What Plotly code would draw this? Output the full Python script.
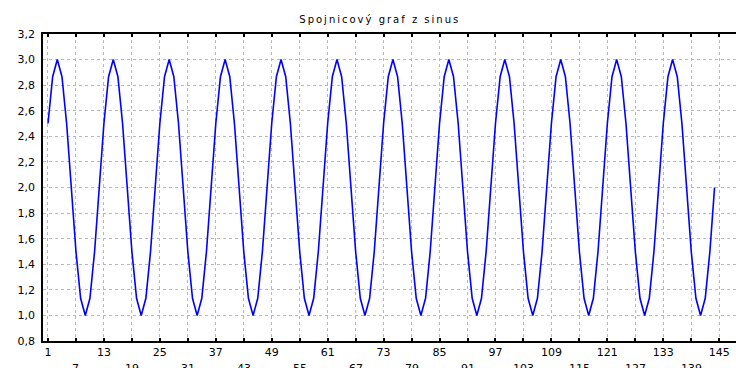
import plotly.graph_objects as go

# Data (x = 1..144)
x_values = list(range(1, 145))
y_values = [
    2.5, 2.866, 3.0, 2.866, 2.5, 2.0, 1.5, 1.134, 1.0, 1.134, 1.5, 2.0,
    2.5, 2.866, 3.0, 2.866, 2.5, 2.0, 1.5, 1.134, 1.0, 1.134, 1.5, 2.0,
    2.5, 2.866, 3.0, 2.866, 2.5, 2.0, 1.5, 1.134, 1.0, 1.134, 1.5, 2.0,
    2.5, 2.866, 3.0, 2.866, 2.5, 2.0, 1.5, 1.134, 1.0, 1.134, 1.5, 2.0,
    2.5, 2.866, 3.0, 2.866, 2.5, 2.0, 1.5, 1.134, 1.0, 1.134, 1.5, 2.0,
    2.5, 2.866, 3.0, 2.866, 2.5, 2.0, 1.5, 1.134, 1.0, 1.134, 1.5, 2.0,
    2.5, 2.866, 3.0, 2.866, 2.5, 2.0, 1.5, 1.134, 1.0, 1.134, 1.5, 2.0,
    2.5, 2.866, 3.0, 2.866, 2.5, 2.0, 1.5, 1.134, 1.0, 1.134, 1.5, 2.0,
    2.5, 2.866, 3.0, 2.866, 2.5, 2.0, 1.5, 1.134, 1.0, 1.134, 1.5, 2.0,
    2.5, 2.866, 3.0, 2.866, 2.5, 2.0, 1.5, 1.134, 1.0, 1.134, 1.5, 2.0,
    2.5, 2.866, 3.0, 2.866, 2.5, 2.0, 1.5, 1.134, 1.0, 1.134, 1.5, 2.0,
    2.5, 2.866, 3.0, 2.866, 2.5, 2.0, 1.5, 1.134, 1.0, 1.134, 1.5, 2.0,
]

# tick positions every 6; labels alternate between two rows
x_tick_vals = [1, 7, 13, 19, 25, 31, 37, 43, 49, 55, 61, 67, 73, 79, 85, 91,
               97, 103, 109, 115, 121, 127, 133, 139, 145]
x_row1_vals = [1, 13, 25, 37, 49, 61, 73, 85, 97, 109, 121, 133, 145]
x_row1_labels = ["1", "13", "25", "37", "49", "61", "73", "85", "97", "109",
                 "121", "133", "145"]
x_row2_vals = [7, 19, 31, 43, 55, 67, 79, 91, 103, 115, 127, 139]
x_row2_labels = ["7", "19", "31", "43", "55", "67", "79", "91", "103", "115",
                 "127", "139"]
y_tick_vals = [0.8, 1.0, 1.2, 1.4, 1.6, 1.8, 2.0, 2.2, 2.4, 2.6, 2.8, 3.0, 3.2]
y_tick_labels = ["0,8", "1,0", "1,2", "1,4", "1,6", "1,8", "2,0", "2,2",
                 "2,4", "2,6", "2,8", "3,0", "3,2"]
title_text = "Spojnicový graf z sinus"

row1_map = dict(zip(x_row1_vals, x_row1_labels))
x_tick_text = [row1_map.get(v, "") for v in x_tick_vals]

fig = go.Figure()
fig.add_trace(go.Scatter(
    x=x_values, y=y_values, mode="lines",
    line=dict(color="rgb(0,0,255)", width=1.6),
    showlegend=False, hoverinfo="skip",
))

for v, t in zip(x_row2_vals, x_row2_labels):
    fig.add_annotation(
        x=v, y=0, xref="x", yref="paper", text=t, showarrow=False,
        xanchor="center", yanchor="top", yshift=-19,
        font=dict(family="DejaVu Sans", size=11, color="black"),
    )

fig.update_layout(
    width=736, height=368,
    margin=dict(l=43, r=0, t=34, b=27, autoexpand=False),
    paper_bgcolor="white", plot_bgcolor="white",
    font=dict(family="DejaVu Sans", size=11, color="black"),
    title=dict(text='<span style="letter-spacing:2px">' + title_text + '</span>',
               x=0.516, xanchor="center", y=0.948, yanchor="middle",
               font=dict(family="DejaVu Sans", size=10, color="black")),
    xaxis=dict(
        range=[-0.07, 148.6], tickmode="array",
        tickvals=x_tick_vals, ticktext=x_tick_text,
        showgrid=True, gridcolor="#b8b8b8", griddash="dot", gridwidth=1,
        showline=True, linecolor="black", linewidth=1.5, mirror="ticks",
        ticks="inside", ticklen=3, tickwidth=2, tickcolor="black",
        tickangle=0, zeroline=False, automargin=False,
        tickfont=dict(family="DejaVu Sans", size=11, color="black"),
    ),
    yaxis=dict(
        range=[0.8, 3.2], tickmode="array",
        tickvals=y_tick_vals, ticktext=y_tick_labels,
        showgrid=True, gridcolor="#b8b8b8", griddash="dot", gridwidth=1,
        showline=True, linecolor="black", linewidth=1.5,
        ticks="", zeroline=False, ticklabelstandoff=4, automargin=False,
        tickfont=dict(family="DejaVu Sans", size=11, color="black"),
    ),
)

fig.write_html("out.html", config={"displayModeBar": False},
               post_script="document.body.style.margin='0';")
